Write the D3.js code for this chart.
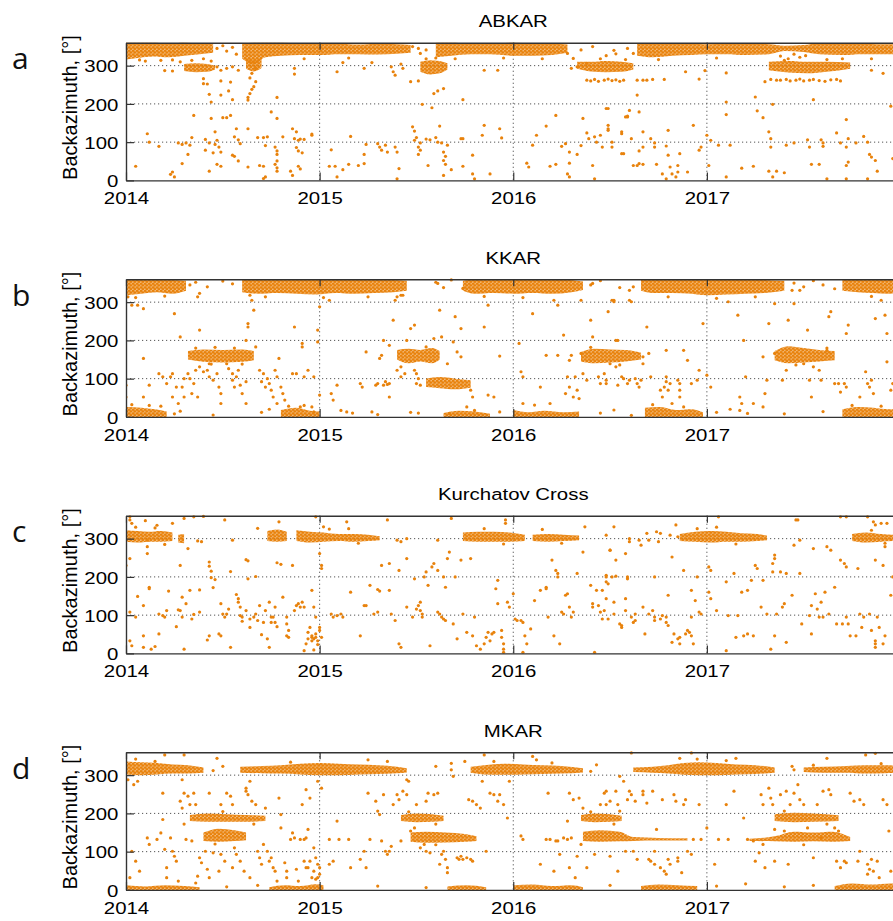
<!DOCTYPE html>
<html>
<head>
<meta charset="utf-8">
<script src="https://cdn.jsdelivr.net/npm/d3@7"></script>
<style>
  body { margin: 0; background: #fff; }
  svg { display: block; }
</style>
</head>
<body>
<div id="chart"></div>
<script>
const station_names = ["ABKAR", "KKAR", "Kurchatov Cross", "MKAR"];
const panel_letters = ["a", "b", "c", "d"];
const year_ticks = [2014, 2015, 2016, 2017];
const azimuth_ticks = [0, 100, 200, 300];

const abkar_bands = [
  [[2014.00,316,360],[2014.06,320,360],[2014.14,324,360],[2014.22,322,358],[2014.30,326,360],[2014.38,330,358],[2014.45,334,356]],
  [[2014.60,318,358],[2014.66,304,360],[2014.72,322,360],[2014.80,326,360],[2014.90,328,358],[2015.00,328,357],[2015.10,330,357],[2015.20,330,355],[2015.30,329,357],[2015.40,331,356],[2015.47,334,354]],
  [[2015.60,322,360],[2015.68,326,360],[2015.78,330,358],[2015.88,330,358],[2016.00,326,360],[2016.10,326,358],[2016.20,328,357],[2016.28,334,355]],
  [[2016.64,326,358],[2016.72,322,358],[2016.82,326,358],[2016.92,328,358],[2017.00,330,356],[2017.10,330,357],[2017.20,328,357],[2017.32,330,356],[2017.40,338,352],[2017.50,336,354],[2017.58,330,358],[2017.70,328,358],[2017.80,330,358],[2017.90,330,356],[2018.00,330,356]],
  [[2014.30,286,304],[2014.36,283,306],[2014.42,284,304],[2014.46,290,300]],
  [[2014.62,292,318],[2014.66,285,314],[2014.70,294,318]],
  [[2015.52,284,310],[2015.57,277,314],[2015.62,280,312],[2015.66,290,306]],
  [[2016.33,292,310],[2016.40,285,310],[2016.48,283,312],[2016.56,284,310],[2016.62,290,306]],
  [[2017.32,288,310],[2017.42,282,312],[2017.52,280,310],[2017.62,284,310],[2017.74,292,308]]
];
const abkar_points = [
  [2014.05,37],[2014.11,122],[2014.12,100],[2014.17,89],[2014.20,287],[2014.24,286],[2014.27,98],[2014.29,94],[2014.31,98],[2014.33,92],
  [2014.34,112],[2014.32,68],[2014.29,44],[2014.24,22],[2014.25,9],[2014.23,16],[2014.35,170],[2014.40,266],[2014.40,253],[2014.42,252],
  [2014.43,225],[2014.44,205],[2014.44,162],[2014.41,107],[2014.43,98],[2014.41,79],[2014.47,105],[2014.46,94],[2014.48,87],[2014.45,72],
  [2014.49,74],[2014.43,24],[2014.47,42],[2014.49,37],[2014.46,127],[2014.49,223],[2014.49,260],[2014.50,164],[2014.52,164],[2014.54,170],
  [2014.55,211],[2014.53,234],[2014.54,257],[2014.56,114],[2014.58,106],[2014.59,96],[2014.55,66],[2014.56,63],[2014.58,51],[2014.57,135],
  [2014.63,35],[2014.63,135],[2014.68,112],[2014.71,112],[2014.73,114],[2014.72,91],[2014.69,39],[2014.71,37],[2014.72,9],[2014.71,5],
  [2014.75,179],[2014.78,217],[2014.78,162],[2014.77,87],[2014.78,77],[2014.78,68],[2014.78,51],[2014.77,42],[2014.78,33],[2014.78,24],
  [2014.81,114],[2014.86,135],[2014.88,127],[2014.87,109],[2014.89,105],[2014.90,108],[2014.92,107],[2014.88,86],[2014.89,77],[2014.91,72],
  [2014.89,37],[2014.90,30],[2014.85,24],[2014.86,13],[2014.96,121],[2014.87,293],[2014.87,278],[2014.66,245],[2014.64,227],[2014.65,238],
  [2014.63,217],[2014.63,210],[2014.67,293],[2014.47,297],[2014.49,288],[2014.52,293],[2014.55,297],[2014.58,288],[2014.24,315],[2014.28,310],
  [2014.07,315],[2014.47,345],[2014.50,352],[2014.52,338],[2014.55,348],[2014.57,330],[2014.65,280],[2014.64,268],[2014.67,258],
  [2014.96,118],[2015.06,80],[2015.09,284],[2015.12,308],[2015.16,115],[2015.05,37],[2015.08,37],[2015.12,28],[2015.09,9],[2015.15,42],
  [2015.20,39],[2015.23,44],[2015.23,68],[2015.24,94],[2015.30,96],[2015.31,87],[2015.34,92],[2015.35,74],[2015.39,87],[2015.40,74],
  [2015.41,31],[2015.40,4],[2015.32,79],[2015.23,293],[2015.27,308],[2015.37,297],[2015.38,284],[2015.39,275],[2015.42,304],[2015.43,293],
  [2015.47,258],[2015.51,260],[2015.53,199],[2015.58,190],[2015.59,227],[2015.61,234],[2015.64,240],[2015.48,140],[2015.49,129],[2015.50,112],
  [2015.49,105],[2015.52,98],[2015.51,87],[2015.52,79],[2015.51,68],[2015.55,108],[2015.57,106],[2015.56,39],[2015.60,112],[2015.61,100],
  [2015.62,142],[2015.63,98],[2015.64,74],[2015.65,63],[2015.64,52],[2015.65,42],[2015.64,13],[2015.66,92],[2015.68,28],[2015.73,109],
  [2015.74,109],[2015.74,211],[2015.74,37],[2015.79,66],[2015.79,17],[2015.80,4],[2015.84,118],[2015.85,144],[2015.85,288],[2015.88,17],
  [2015.93,135],[2015.94,111],[2015.92,288],[2016.07,45],[2016.08,35],[2016.10,92],[2016.12,118],[2016.17,142],[2016.22,170],[2016.19,37],
  [2016.22,42],[2016.25,89],[2016.27,96],[2016.28,17],[2016.29,9],[2016.29,74],[2016.29,45],[2016.33,68],[2016.36,162],[2016.35,91],
  [2016.38,124],[2016.39,109],[2016.41,39],[2016.42,4],[2016.42,114],[2016.43,100],[2016.45,118],[2016.46,87],[2016.48,188],[2016.49,135],
  [2016.51,87],[2016.56,70],[2016.56,127],[2016.59,166],[2016.60,183],[2015.51,345],[2015.52,332],[2015.48,350],[2015.55,341],[2016.28,332],
  [2016.31,319],[2016.35,341],[2016.38,306],[2016.41,350],[2016.33,297],[2016.30,293],
  [2016.38,262],[2016.40,260],[2016.42,264],[2016.44,259],[2016.47,262],[2016.49,265],[2016.51,261],[2016.53,263],[2016.55,259],[2016.57,262],
  [2016.49,188],[2016.49,144],[2016.49,131],[2016.51,100],[2016.56,122],[2016.58,166],[2016.59,168],[2016.57,70],[2016.61,109],[2016.62,39],
  [2016.64,39],[2016.65,44],[2016.67,42],[2016.64,223],[2016.65,179],[2016.64,262],[2016.67,262],[2016.69,262],[2016.72,264],[2016.78,264],
  [2016.67,127],[2016.67,87],[2016.65,77],[2016.71,109],[2016.73,98],[2016.73,87],[2016.74,42],[2016.77,17],[2016.79,90],[2016.80,66],
  [2016.80,131],[2016.81,35],[2016.82,17],[2016.85,39],[2016.85,22],[2016.84,9],[2016.86,70],[2016.79,4],[2016.89,284],[2016.90,22],
  [2016.93,144],[2016.96,265],[2016.96,79],[2016.97,87],[2016.99,287],[2017.00,118],[2017.01,39],[2017.02,105],[2017.06,92],[2017.10,281],
  [2017.10,205],[2017.10,172],[2017.12,92],[2017.10,9],[2017.18,32],[2017.24,37],[2017.25,218],[2017.26,182],[2017.29,164],[2017.32,127],
  [2017.33,109],[2017.33,87],[2017.32,24],[2017.34,199],[2017.36,24],[2017.34,9],[2017.40,20],[2017.41,92],[2017.45,98],[2017.52,106],
  [2017.53,87],[2017.55,211],[2017.59,106],[2017.60,98],[2017.60,89],[2017.54,42],[2017.58,42],[2017.62,4],[2017.67,124],[2017.69,98],
  [2017.72,159],[2017.73,109],[2017.72,87],[2017.73,48],[2017.72,39],[2017.77,98],[2017.81,115],[2017.83,100],[2017.84,68],[2017.85,61],
  [2017.87,52],[2017.88,24],[2017.83,4],[2017.91,280],[2017.85,288],[2017.95,194],[2017.96,57],[2017.72,4],
  [2017.38,262],[2017.41,264],[2017.43,260],[2017.46,262],[2017.48,265],[2017.50,260],[2017.53,262],[2017.55,264],[2017.58,261],[2017.61,259],
  [2017.64,263],[2017.67,264],[2017.69,260],[2017.30,258],[2017.33,264],[2017.36,262],
  [2016.52,340],[2016.53,331],[2016.48,326],[2016.59,345],[2016.62,332],[2017.38,325],[2017.42,318],[2017.45,330],[2017.48,322],[2017.51,326],
  [2014.10,312],[2014.18,314],[2014.92,318],[2015.15,320],[2015.70,318],[2015.95,320],[2016.15,318],[2016.75,316],[2017.05,320],[2017.85,318],
  [2014.34,314],[2014.40,318],[2014.44,312],[2015.55,318],[2015.60,320],[2016.45,318],[2016.58,316],[2017.40,314],[2017.62,316],[2017.70,318]
];

const kkar_bands = [
  [[2014.00,318,358],[2014.08,322,358],[2014.16,326,358],[2014.24,322,358],[2014.31,330,356]],
  [[2014.60,326,358],[2014.68,322,360],[2014.78,324,360],[2014.88,322,360],[2014.98,320,360],[2015.08,324,358],[2015.18,322,358],[2015.28,324,358],[2015.38,326,358],[2015.45,330,356]],
  [[2015.74,330,356],[2015.80,322,360],[2015.90,324,360],[2016.00,322,360],[2016.10,324,358],[2016.20,322,360],[2016.30,326,358],[2016.36,332,354]],
  [[2016.66,330,358],[2016.72,324,360],[2016.82,324,360],[2016.92,322,360],[2017.00,318,358],[2017.10,320,360],[2017.20,322,360],[2017.30,324,358],[2017.40,330,356]],
  [[2017.70,330,358],[2017.78,326,360],[2017.86,324,358],[2017.93,322,360],[2018.00,324,358]],
  [[2014.32,150,172],[2014.40,144,176],[2014.50,142,175],[2014.60,144,176],[2014.66,148,172]],
  [[2015.40,150,175],[2015.46,140,178],[2015.52,145,175],[2015.58,140,180],[2015.62,150,172]],
  [[2016.35,145,170],[2016.42,140,178],[2016.50,142,176],[2016.58,145,175],[2016.66,150,168]],
  [[2017.35,148,172],[2017.42,140,185],[2017.50,142,180],[2017.58,145,175],[2017.66,148,172]],
  [[2015.55,78,100],[2015.62,75,104],[2015.70,72,100],[2015.78,76,96]],
  [[2014.00,0,26],[2014.08,0,24],[2014.15,0,20],[2014.21,0,14]],
  [[2014.80,0,18],[2014.88,0,24],[2014.95,0,16],[2015.00,0,14]],
  [[2015.64,0,10],[2015.72,0,16],[2015.80,0,14],[2015.88,0,8]],
  [[2016.00,0,18],[2016.08,0,12],[2016.16,0,16],[2016.26,0,12],[2016.34,0,14]],
  [[2016.68,0,24],[2016.76,0,26],[2016.84,0,18],[2016.92,0,20],[2016.98,0,12]],
  [[2017.70,0,20],[2017.78,0,26],[2017.86,0,24],[2017.94,0,20],[2018.00,0,20]]
];
const kkar_points = [
  [2014.01,314],[2014.03,292],[2014.06,292],[2014.09,283],[2014.09,153],[2014.12,83],[2014.09,52],[2014.00,83],[2014.00,52],[2014.17,113],
  [2014.19,105],[2014.21,87],[2014.23,105],[2014.24,113],[2014.25,270],[2014.28,209],[2014.26,78],[2014.24,52],[2014.27,35],[2014.29,78],
  [2014.30,52],[2014.30,100],[2014.32,113],[2014.33,100],[2014.35,87],[2014.34,61],[2014.37,52],[2014.37,314],[2014.38,323],[2014.38,227],
  [2014.36,122],[2014.38,131],[2014.40,118],[2014.42,122],[2014.43,105],[2014.43,139],[2014.45,96],[2014.47,113],[2014.48,78],[2014.49,61],
  [2014.49,35],[2014.52,139],[2014.53,126],[2014.55,113],[2014.55,96],[2014.57,105],[2014.56,78],[2014.58,122],[2014.59,83],[2014.60,61],
  [2014.62,35],[2014.62,92],[2014.63,244],[2014.63,235],[2014.62,200],[2014.64,318],[2014.65,305],[2014.66,279],[2014.67,183],[2014.69,122],
  [2014.71,113],[2014.70,92],[2014.72,78],[2014.73,100],[2014.74,87],[2014.75,70],[2014.77,122],[2014.78,105],[2014.76,52],[2014.78,35],
  [2014.79,153],[2014.80,78],[2014.81,61],[2014.82,44],[2014.86,113],[2014.88,113],[2014.87,235],[2014.90,26],[2014.91,183],[2014.97,105],
  [2014.99,227],[2014.99,196],[2015.00,288],[2014.91,192],[2014.92,105],[2014.94,122],[2014.96,26],[2014.97,13],[2015.00,57],[2015.05,305],
  [2015.06,61],[2015.07,44],[2015.09,83],[2015.11,17],[2015.14,13],[2015.17,10],[2015.21,87],[2015.22,78],[2015.24,170],[2015.27,13],
  [2015.29,83],[2015.30,87],[2015.33,83],[2015.34,92],[2015.35,85],[2015.36,87],[2015.36,52],[2015.33,200],[2015.36,187],[2015.31,153],
  [2015.32,161],[2015.38,253],[2015.39,305],[2015.40,314],[2015.42,318],[2015.43,318],[2015.40,122],[2015.42,131],[2015.42,105],[2015.44,113],
  [2015.45,200],[2015.47,231],[2015.49,240],[2015.49,122],[2015.50,113],[2015.51,100],[2015.50,87],[2015.52,83],[2015.51,10],[2015.55,183],
  [2015.59,205],[2015.61,349],[2015.62,279],[2015.63,209],[2015.66,139],[2015.67,9],[2015.68,358],[2015.69,196],[2015.70,262],[2015.71,170],
  [2015.73,157],[2015.73,231],[2015.74,336],[2015.78,70],[2015.79,52],[2015.76,26],[2015.80,17],[2015.85,235],[2015.87,292],[2015.87,57],
  [2015.90,52],[2015.93,159],[2015.93,13],[2016.03,192],[2016.04,118],[2016.05,105],[2016.05,35],[2016.10,270],[2016.11,31],[2016.14,78],
  [2016.17,161],[2016.19,35],[2016.21,305],[2016.23,161],[2016.23,292],[2016.26,214],[2016.27,61],[2016.28,105],[2016.29,148],[2016.29,78],
  [2016.30,161],[2016.31,52],[2016.32,105],[2016.33,70],[2016.34,48],[2016.35,305],[2016.35,166],[2016.36,113],[2016.38,96],[2016.40,253],
  [2016.41,209],[2016.41,349],[2016.44,105],[2016.45,87],[2016.47,113],[2016.48,96],[2016.51,305],[2016.52,301],[2016.54,83],[2016.56,105],
  [2016.60,96],[2016.60,305],[2016.48,87],[2016.49,275],[2016.52,305],[2016.53,200],[2016.54,200],[2016.50,139],[2016.53,131],[2016.57,100],
  [2016.59,87],[2016.60,331],[2016.61,301],[2016.61,4],[2016.62,340],[2016.63,100],[2016.64,87],[2016.65,78],[2016.66,96],[2016.67,139],
  [2016.67,157],[2016.69,235],[2016.70,166],[2016.71,105],[2016.76,70],[2016.77,52],[2016.78,78],[2016.79,92],[2016.79,105],[2016.80,70],
  [2016.81,87],[2016.82,35],[2016.79,174],[2016.85,96],[2016.86,87],[2016.86,70],[2016.86,52],[2016.88,174],[2016.90,148],[2016.92,87],
  [2016.95,96],[2016.96,122],[2016.98,244],[2017.00,109],[2017.02,78],[2017.11,301],[2017.16,266],[2017.17,17],[2017.18,35],[2017.17,52],
  [2017.19,200],[2017.20,105],[2017.21,9],[2017.24,35],[2017.29,26],[2017.29,157],[2017.30,61],[2017.31,96],[2017.32,244],[2017.35,296],
  [2017.35,166],[2017.39,96],[2017.41,122],[2017.42,253],[2017.44,331],[2017.45,296],[2017.48,331],[2017.50,139],[2017.52,227],[2017.53,96],
  [2017.54,52],[2017.55,131],[2017.58,122],[2017.59,96],[2017.62,174],[2017.63,262],[2017.64,275],[2017.66,87],[2017.68,87],[2017.69,65],
  [2017.71,87],[2017.72,78],[2017.72,218],[2017.73,240],[2017.79,52],[2017.82,118],[2017.83,87],[2017.84,78],[2017.85,96],[2017.87,257],
  [2017.86,61],[2017.90,305],[2017.92,266],[2017.93,218],[2017.93,144],[2017.95,70],[2017.96,87],
  [2014.05,312],[2014.20,316],[2014.72,314],[2015.02,312],[2015.25,314],[2015.85,315],[2016.05,312],[2016.80,314],[2017.05,310],[2017.25,314],
  [2017.85,315],[2014.33,345],[2014.36,352],[2014.42,340],[2014.50,355],[2014.55,348],[2015.60,352],[2015.64,338],[2016.40,345],[2016.45,356],
  [2016.55,338],[2017.45,350],[2017.50,340],[2017.55,356],[2017.60,345],[2017.66,335],[2014.25,8],[2014.28,15],[2014.45,5],[2014.70,12],
  [2014.74,20],[2015.30,6],[2015.47,12],[2016.45,10],[2016.52,18],[2017.05,12],[2017.12,20],[2017.40,8],[2017.60,14],
  [2014.03,32],[2014.12,30],[2014.18,28],[2014.84,28],[2014.92,30],[2016.72,32],[2016.88,26],[2017.75,30],[2017.90,28],[2014.36,180],
  [2014.46,182],[2014.56,180],[2014.44,138],[2014.60,138],[2016.40,182],[2016.55,136],[2017.46,136],[2017.62,180]
];

const kurchatov_bands = [
  [[2014.00,292,322],[2014.06,290,320],[2014.12,292,318],[2014.18,292,320],[2014.24,294,316]],
  [[2014.27,290,310],[2014.30,288,312]],
  [[2014.73,294,320],[2014.78,292,324],[2014.83,294,318]],
  [[2014.88,294,322],[2014.95,290,318],[2015.02,292,316],[2015.10,294,312],[2015.18,292,312],[2015.25,294,310],[2015.31,296,306]],
  [[2015.74,294,316],[2015.82,292,318],[2015.90,292,318],[2015.98,292,316],[2016.06,294,310]],
  [[2016.10,294,310],[2016.18,292,312],[2016.26,294,310],[2016.34,296,308]],
  [[2016.86,294,312],[2016.94,292,318],[2017.02,290,320],[2017.10,292,318],[2017.18,292,314],[2017.26,294,312],[2017.31,296,308]],
  [[2017.75,294,312],[2017.82,290,316],[2017.90,292,312],[2017.97,294,310]]
];
const kurchatov_points = [
  [2014.02,357],[2014.02,349],[2014.03,340],[2014.00,230],[2014.02,248],[2014.02,33],[2014.03,20],[2014.02,108],[2014.05,95],[2014.06,149],
  [2014.09,125],[2014.10,347],[2014.11,296],[2014.11,279],[2014.12,173],[2014.12,169],[2014.09,46],[2014.09,16],[2014.11,261],[2014.13,11],
  [2014.15,18],[2014.16,335],[2014.17,103],[2014.17,51],[2014.19,99],[2014.20,95],[2014.21,112],[2014.22,163],[2014.24,340],[2014.26,70],
  [2014.27,114],[2014.28,112],[2014.28,230],[2014.29,147],[2014.30,353],[2014.29,95],[2014.30,11],[2014.31,130],[2014.32,274],[2014.33,165],
  [2014.34,90],[2014.35,357],[2014.35,102],[2014.37,294],[2014.38,166],[2014.38,108],[2014.39,292],[2014.40,358],[2014.42,35],[2014.43,46],
  [2014.43,239],[2014.43,228],[2014.44,215],[2014.44,198],[2014.45,172],[2014.46,193],[2014.48,51],[2014.49,46],[2014.49,130],[2014.50,103],
  [2014.51,95],[2014.51,349],[2014.52,103],[2014.53,116],[2014.54,16],[2014.54,214],[2014.55,296],[2014.57,154],[2014.58,143],[2014.58,134],
  [2014.59,121],[2014.59,99],[2014.60,95],[2014.60,84],[2014.62,112],[2014.62,245],[2014.63,242],[2014.63,195],[2014.64,90],[2014.64,68],
  [2014.66,95],[2014.67,103],[2014.68,327],[2014.67,201],[2014.68,86],[2014.69,125],[2014.70,49],[2014.71,81],[2014.72,112],[2014.73,38],
  [2014.74,16],[2014.74,134],[2014.75,95],[2014.75,81],[2014.76,95],[2014.77,121],[2014.77,81],[2014.78,70],[2014.78,237],[2014.79,344],
  [2014.80,233],[2014.81,147],[2014.83,95],[2014.83,77],[2014.84,60],[2014.83,46],[2014.84,42],[2014.86,230],[2014.87,112],[2014.88,125],
  [2014.89,130],[2014.90,121],[2014.91,134],[2014.92,7],[2014.92,121],[2014.93,25],[2014.94,38],[2014.95,68],[2014.96,42],[2014.96,33],
  [2014.97,121],[2014.98,95],[2014.99,23],[2014.98,42],[2014.97,9],[2014.96,165],[2015.00,60],[2015.01,42],[2015.01,230],[2015.02,331],
  [2014.98,357],[2014.94,55],[2014.96,46],[2014.97,38],[2014.98,51],[2014.99,33],[2015.00,68],[2015.01,222],[2015.00,261],[2015.06,103],
  [2015.07,95],[2015.09,99],[2015.11,103],[2015.12,95],[2015.14,344],[2015.16,160],[2015.21,46],[2015.23,125],[2015.24,125],[2015.26,178],
  [2015.28,103],[2015.30,108],[2015.30,167],[2015.31,163],[2015.32,230],[2015.35,349],[2015.36,165],[2015.36,235],[2015.37,103],[2015.39,86],
  [2015.40,296],[2015.41,25],[2015.42,16],[2015.41,217],[2015.42,292],[2015.45,300],[2015.45,248],[2015.45,121],[2015.48,95],[2015.49,195],
  [2015.50,116],[2015.51,125],[2015.52,112],[2015.53,103],[2015.52,134],[2015.53,95],[2015.54,200],[2015.55,213],[2015.56,178],[2015.57,20],
  [2015.58,226],[2015.59,235],[2015.61,217],[2015.61,296],[2015.61,108],[2015.62,103],[2015.63,95],[2015.64,90],[2015.65,86],[2015.64,200],
  [2015.65,173],[2015.66,248],[2015.67,265],[2015.68,353],[2015.69,77],[2015.70,200],[2015.71,38],[2015.73,244],[2015.74,103],[2015.76,55],
  [2015.78,248],[2015.79,46],[2015.80,95],[2015.81,20],[2015.83,11],[2015.85,25],[2015.86,42],[2015.87,55],[2015.88,33],[2015.89,51],
  [2015.90,55],[2015.91,169],[2015.92,191],[2015.92,130],[2015.94,60],[2015.94,42],[2015.95,25],[2015.95,11],[2015.95,3],[2015.96,340],
  [2015.96,349],[2015.97,134],[2015.98,121],[2016.00,156],[2016.01,90],[2016.02,86],[2016.04,86],[2016.05,81],[2016.05,3],[2016.06,46],
  [2016.07,25],[2016.09,64],[2016.11,138],[2016.14,165],[2016.17,173],[2016.17,169],[2016.18,95],[2016.20,244],[2016.21,46],[2016.22,217],
  [2016.23,209],[2016.23,200],[2016.24,25],[2016.25,108],[2016.26,103],[2016.27,152],[2016.28,156],[2016.29,121],[2016.30,95],[2016.31,108],
  [2016.33,209],[2016.36,265],[2016.37,331],[2016.40,178],[2016.41,121],[2016.41,130],[2016.42,3],[2016.43,165],[2016.44,125],[2016.45,108],
  [2016.46,90],[2016.47,112],[2016.48,204],[2016.48,187],[2016.50,270],[2016.52,331],[2016.53,244],[2016.56,73],[2016.58,112],[2016.59,195],
  [2016.46,165],[2016.48,309],[2016.49,182],[2016.48,143],[2016.48,200],[2016.51,200],[2016.53,202],[2016.52,134],[2016.50,270],[2016.49,90],
  [2016.52,103],[2016.55,77],[2016.56,68],[2016.58,261],[2016.59,200],[2016.58,143],[2016.60,300],[2016.60,292],[2016.61,95],[2016.62,81],
  [2016.63,86],[2016.63,103],[2016.65,296],[2016.66,283],[2016.67,121],[2016.68,51],[2016.69,314],[2016.70,296],[2016.70,103],[2016.72,112],
  [2016.73,95],[2016.73,86],[2016.73,200],[2016.74,318],[2016.76,314],[2016.75,292],[2016.76,90],[2016.77,99],[2016.79,95],[2016.79,81],
  [2016.80,73],[2016.80,152],[2016.81,309],[2016.82,252],[2016.82,29],[2016.83,51],[2016.84,336],[2016.85,305],[2016.85,38],[2016.86,42],
  [2016.86,25],[2016.88,217],[2016.89,51],[2016.90,60],[2016.91,55],[2016.92,46],[2016.92,165],[2016.92,95],[2016.93,25],[2016.94,138],
  [2016.95,200],[2016.96,108],[2016.97,103],[2017.01,226],[2017.02,217],[2017.01,160],[2017.02,143],[2017.05,112],[2017.06,357],[2017.10,7],
  [2017.10,187],[2017.11,99],[2017.14,209],[2017.15,42],[2017.16,99],[2017.18,160],[2017.19,46],[2017.21,165],[2017.21,51],[2017.23,191],
  [2017.24,46],[2017.25,230],[2017.26,222],[2017.28,121],[2017.29,191],[2017.31,103],[2017.33,11],[2017.34,213],[2017.34,235],[2017.35,248],
  [2017.35,257],[2017.35,46],[2017.36,103],[2017.38,213],[2017.39,121],[2017.40,130],[2017.41,29],[2017.41,209],[2017.44,152],[2017.45,283],
  [2017.46,349],[2017.47,349],[2017.48,209],[2017.48,296],[2017.49,77],[2017.53,99],[2017.54,125],[2017.54,51],[2017.55,274],[2017.56,156],
  [2017.57,116],[2017.58,95],[2017.59,134],[2017.60,95],[2017.61,160],[2017.62,279],[2017.63,103],[2017.64,270],[2017.66,173],[2017.67,77],
  [2017.69,357],[2017.72,357],[2017.69,244],[2017.70,77],[2017.71,235],[2017.72,95],[2017.72,226],[2017.73,77],[2017.74,46],[2017.77,46],
  [2017.78,222],[2017.79,103],[2017.80,68],[2017.81,95],[2017.83,357],[2017.84,103],[2017.85,60],[2017.86,344],[2017.87,336],[2017.87,33],
  [2017.87,25],[2017.87,16],[2017.87,244],[2017.88,95],[2017.89,68],[2017.90,340],[2017.91,25],[2017.91,230],[2017.92,279],[2017.92,46],
  [2017.93,340],[2017.95,152],[2017.96,200],
  [2014.05,330],[2014.15,328],[2014.20,285],[2015.05,325],[2015.15,326],[2015.20,288],[2015.85,326],[2015.95,286],[2016.15,324],[2016.25,288],
  [2016.95,326],[2017.05,330],[2017.15,286],[2017.85,322],[2017.92,288]
];

const mkar_bands = [
  [[2014.00,302,336],[2014.08,300,334],[2014.16,302,332],[2014.24,304,328],[2014.32,304,326],[2014.40,306,320]],
  [[2014.59,306,322],[2014.70,305,324],[2014.80,304,326],[2014.90,302,330],[2015.00,300,332],[2015.10,300,330],[2015.20,302,328],[2015.30,303,326],[2015.40,305,322],[2015.45,307,318]],
  [[2015.78,306,322],[2015.85,302,326],[2015.95,301,330],[2016.05,302,328],[2016.15,303,326],[2016.25,304,324],[2016.36,307,318]],
  [[2016.62,308,320],[2016.72,306,322],[2016.80,304,326],[2016.88,301,332],[2016.96,300,334],[2017.05,300,332],[2017.15,302,328],[2017.25,303,326],[2017.35,306,320]],
  [[2017.50,308,320],[2017.60,306,322],[2017.72,306,324],[2017.82,304,326],[2017.92,305,326],[2018.00,306,324]],
  [[2014.33,180,196],[2014.42,178,200],[2014.52,178,198],[2014.62,178,196],[2014.72,180,194]],
  [[2015.42,180,196],[2015.50,177,200],[2015.58,178,198],[2015.64,180,194]],
  [[2016.35,180,196],[2016.42,177,200],[2016.50,178,198],[2016.56,180,194]],
  [[2017.35,180,198],[2017.45,177,202],[2017.55,178,200],[2017.68,180,195]],
  [[2014.40,128,150],[2014.48,126,160],[2014.56,128,156],[2014.62,130,150]],
  [[2015.47,126,150],[2015.55,123,152],[2015.65,124,150],[2015.75,126,146],[2015.81,128,140]],
  [[2016.36,128,152],[2016.45,126,156],[2016.55,127,152],[2016.62,128,138],[2016.75,129,136],[2016.90,129,135]],
  [[2017.22,128,134],[2017.35,127,140],[2017.45,126,152],[2017.55,127,150],[2017.65,126,152],[2017.74,128,138]],
  [[2014.00,0,12],[2014.10,0,9],[2014.20,0,12],[2014.30,0,10],[2014.38,0,7]],
  [[2014.74,0,7],[2014.82,0,12],[2014.90,0,10],[2014.98,0,15],[2015.02,0,12]],
  [[2015.66,0,9],[2015.76,0,12],[2015.86,0,7]],
  [[2016.00,0,12],[2016.10,0,14],[2016.20,0,10],[2016.30,0,12],[2016.36,0,7]],
  [[2016.66,0,10],[2016.75,0,14],[2016.85,0,12],[2016.95,0,10]],
  [[2017.66,0,10],[2017.75,0,17],[2017.85,0,14],[2017.95,0,17],[2018.00,0,15]]
];
const mkar_points = [
  [2014.01,288],[2014.04,275],[2014.06,284],[2014.03,101],[2014.02,32],[2014.05,75],[2014.07,49],[2014.11,136],[2014.12,119],[2014.16,132],
  [2014.18,149],[2014.20,353],[2014.19,253],[2014.19,184],[2014.20,106],[2014.21,58],[2014.21,32],[2014.23,136],[2014.24,101],[2014.25,88],
  [2014.26,75],[2014.27,23],[2014.28,232],[2014.29,214],[2014.29,288],[2014.30,353],[2014.30,253],[2014.31,132],[2014.32,245],[2014.33,223],
  [2014.34,128],[2014.35,253],[2014.36,223],[2014.37,36],[2014.38,84],[2014.39,71],[2014.41,101],[2014.42,54],[2014.43,32],[2014.43,253],
  [2014.45,97],[2014.47,344],[2014.48,49],[2014.49,93],[2014.49,223],[2014.50,323],[2014.51,75],[2014.52,253],[2014.54,245],[2014.55,58],
  [2014.55,223],[2014.56,110],[2014.57,93],[2014.59,75],[2014.61,49],[2014.62,258],[2014.62,266],[2014.63,249],[2014.64,284],[2014.64,32],
  [2014.65,232],[2014.67,223],[2014.68,101],[2014.69,84],[2014.70,67],[2014.71,119],[2014.72,214],[2014.73,101],[2014.74,75],[2014.75,84],
  [2014.76,58],[2014.77,49],[2014.78,23],[2014.79,240],[2014.80,197],[2014.80,162],[2014.82,71],[2014.83,49],[2014.83,32],[2014.85,132],
  [2014.86,149],[2014.87,136],[2014.88,54],[2014.89,23],[2014.90,132],[2014.91,223],[2014.92,132],[2014.93,262],[2014.93,136],[2014.94,58],
  [2014.95,75],[2014.96,32],[2014.97,49],[2014.98,28],[2014.99,284],[2014.99,67],[2015.00,41],[2015.01,266],
  [2014.92,75],[2014.93,58],[2014.94,158],[2014.95,240],[2014.97,110],[2014.98,84],[2014.99,32],[2015.00,58],[2015.05,132],[2015.05,67],
  [2015.07,75],[2015.09,180],[2015.10,132],[2015.15,132],[2015.16,58],[2015.21,80],[2015.23,101],[2015.24,58],[2015.25,253],[2015.26,132],
  [2015.29,232],[2015.30,206],[2015.31,197],[2015.32,128],[2015.33,249],[2015.34,101],[2015.35,93],[2015.36,101],[2015.37,114],[2015.38,223],
  [2015.40,249],[2015.41,236],[2015.42,128],[2015.43,258],[2015.45,288],[2015.45,249],[2015.46,284],[2015.47,154],[2015.49,162],[2015.50,223],
  [2015.52,110],[2015.54,119],[2015.55,232],[2015.55,101],[2015.56,253],[2015.57,97],[2015.59,249],[2015.60,323],[2015.61,253],[2015.62,67],
  [2015.63,93],[2015.64,101],[2015.65,80],[2015.66,58],[2015.66,45],[2015.68,331],[2015.68,314],[2015.69,297],[2015.71,84],[2015.72,80],
  [2015.73,88],[2015.74,80],[2015.75,336],[2015.76,84],[2015.78,80],[2015.79,75],[2015.77,236],[2015.79,232],[2015.81,223],[2015.83,214],
  [2015.84,284],[2015.85,353],[2015.86,101],[2015.88,253],[2015.90,249],[2015.92,232],[2015.93,249],[2015.95,223],[2015.97,188],[2015.98,284],
  [2016.04,141],[2016.05,132],[2016.10,349],[2016.12,340],[2016.14,67],[2016.17,132],[2016.18,253],[2016.19,132],[2016.21,49],[2016.22,128],
  [2016.23,128],[2016.24,93],[2016.26,136],[2016.28,132],[2016.28,180],[2016.29,58],[2016.29,253],[2016.30,136],[2016.31,236],[2016.32,32],
  [2016.33,88],[2016.34,240],[2016.35,119],[2016.36,214],[2016.38,58],[2016.40,310],[2016.42,93],[2016.43,327],[2016.45,223],[2016.48,258],
  [2016.50,88],[2016.54,49],[2016.55,297],[2016.58,101],
  [2016.47,253],[2016.48,223],[2016.50,232],[2016.53,258],[2016.54,223],[2016.55,206],[2016.57,284],[2016.59,236],[2016.60,258],[2016.61,358],
  [2016.61,249],[2016.62,101],[2016.63,232],[2016.64,80],[2016.67,249],[2016.67,258],[2016.69,227],[2016.70,80],[2016.71,75],[2016.72,258],
  [2016.73,67],[2016.73,101],[2016.74,158],[2016.76,58],[2016.77,236],[2016.78,49],[2016.79,41],[2016.80,80],[2016.81,67],[2016.83,249],
  [2016.84,232],[2016.85,75],[2016.85,84],[2016.86,344],[2016.87,45],[2016.88,223],[2016.89,236],[2016.90,101],[2016.92,358],[2016.92,93],
  [2016.93,132],[2016.96,223],[2016.97,132],[2017.00,162],[2017.04,67],[2017.06,132],[2017.10,223],[2017.11,132],[2017.14,258],[2017.15,344],
  [2017.19,188],[2017.21,132],[2017.24,128],[2017.25,75],[2017.27,97],[2017.28,249],[2017.29,223],[2017.29,119],[2017.30,58],[2017.32,266],
  [2017.33,240],[2017.34,223],[2017.35,75],[2017.35,158],[2017.38,249],[2017.40,154],[2017.41,258],[2017.42,67],[2017.43,223],[2017.44,323],
  [2017.45,253],[2017.47,275],[2017.48,236],[2017.50,223],[2017.52,162],[2017.55,84],[2017.57,223],[2017.59,136],[2017.60,258],[2017.62,344],
  [2017.63,262],[2017.64,249],[2017.66,162],[2017.67,75],[2017.68,154],[2017.69,58],[2017.71,75],[2017.72,71],[2017.74,253],[2017.76,232],
  [2017.78,75],[2017.79,236],[2017.79,101],[2017.81,223],[2017.82,353],[2017.83,67],[2017.83,41],[2017.84,54],[2017.85,80],[2017.86,49],
  [2017.87,357],[2017.88,75],[2017.89,32],[2017.91,236],[2017.93,223],[2017.94,154],[2017.95,49],
  [2014.05,342],[2014.15,336],[2014.45,312],[2014.85,334],[2015.25,340],[2015.35,336],[2015.90,336],[2016.20,332],[2016.95,342],[2017.10,338],
  [2017.45,314],[2017.55,326],[2017.90,330],[2014.36,18],[2014.52,8],[2014.68,12],[2015.30,10],[2015.55,6],[2016.50,12],[2017.05,10],
  [2017.20,16],[2017.40,8],[2017.55,12],[2014.30,172],[2014.50,205],[2014.66,172],[2015.46,204],[2015.60,172],[2016.40,204],[2016.52,172],
  [2017.40,206],[2017.62,172],[2014.46,120],[2015.60,118],[2017.50,118]
];

let graph_config = {
  width: 893,
  height: 921,
  left: 126,
  right: 900.5,
  first_top: 42.7,
  panel_height: 137.7,
  panel_step: 236.5
};
const dot_color = "#e8820c";
const text_font = "'Liberation Sans', Arial, sans-serif";

let svg = d3
  .select("#chart")
  .append("svg")
  .attr("width", graph_config.width)
  .attr("height", graph_config.height)
  .style("background", "#fff");

// texture for the dense clusters, so they read as packed dots rather than flat shapes
let dense = svg
  .append("defs")
  .append("pattern")
  .attr("id", "dense_dots")
  .attr("patternUnits", "userSpaceOnUse")
  .attr("width", 4)
  .attr("height", 3.6);
dense.append("rect").attr("width", 4).attr("height", 3.6).attr("fill", dot_color).attr("fill-opacity", 0.55);
dense.append("circle").attr("cx", 1).attr("cy", 0.9).attr("r", 1.5).attr("fill", dot_color);
dense.append("circle").attr("cx", 3).attr("cy", 2.7).attr("r", 1.5).attr("fill", dot_color);

let x_scale = d3
  .scaleLinear()
  .domain([2014, 2018])
  .range([graph_config.left, graph_config.right]);

let panels = [
  { bands: abkar_bands, points: abkar_points },
  { bands: kkar_bands, points: kkar_points },
  { bands: kurchatov_bands, points: kurchatov_points },
  { bands: mkar_bands, points: mkar_points }
];

panels.forEach((panel, i) => draw_panel(panel, i));

function draw_panel(panel, i) {
  let { left, panel_height, width } = graph_config;
  let top = graph_config.first_top + i * graph_config.panel_step;
  let g = svg.append("g").attr("transform", "translate(0," + top + ")");

  let y_scale = d3.scaleLinear().domain([0, 360]).range([panel_height, 0]);

  g.append("clipPath")
    .attr("id", "clip_" + i)
    .append("rect")
    .attr("x", left)
    .attr("y", -2)
    .attr("width", width - left)
    .attr("height", panel_height + 4);

  // dotted grid
  let grid = g.append("g").attr("stroke", "#555").attr("stroke-width", 1).attr("stroke-dasharray", "1.2,2.8");
  grid.selectAll(".hgrid")
    .data(azimuth_ticks.filter(d => d > 0))
    .enter()
    .append("line")
    .attr("x1", left)
    .attr("x2", width)
    .attr("y1", d => y_scale(d))
    .attr("y2", d => y_scale(d));
  grid.selectAll(".vgrid")
    .data(year_ticks.filter(d => d > 2014))
    .enter()
    .append("line")
    .attr("x1", d => x_scale(d))
    .attr("x2", d => x_scale(d))
    .attr("y1", 0)
    .attr("y2", panel_height);

  let data_g = g.append("g").attr("clip-path", "url(#clip_" + i + ")");

  let band_area = d3
    .area()
    .x(d => x_scale(d[0]))
    .y0(d => y_scale(d[1]))
    .y1(d => y_scale(d[2]))
    .curve(d3.curveMonotoneX);

  data_g.selectAll(".band")
    .data(panel.bands)
    .enter()
    .append("path")
    .attr("d", band_area)
    .attr("fill", "url(#dense_dots)");

  data_g.selectAll(".dot")
    .data(panel.points)
    .enter()
    .append("circle")
    .attr("cx", d => x_scale(d[0]))
    .attr("cy", d => y_scale(d[1]))
    .attr("r", 1.6)
    .attr("fill", dot_color);

  // axes, ticks pointing inwards like the original
  let x_axis = g.append("g")
    .attr("transform", "translate(0," + panel_height + ")")
    .call(d3.axisBottom(x_scale).tickValues(year_ticks).tickSizeInner(-8).tickSizeOuter(0).tickPadding(12).tickFormat(d3.format("d")));
  let top_axis = g.append("g")
    .call(d3.axisTop(x_scale).tickValues(year_ticks).tickSizeInner(-7).tickSizeOuter(0).tickFormat(""));
  let y_axis = g.append("g")
    .attr("transform", "translate(" + left + ",0)")
    .call(d3.axisLeft(y_scale).tickValues(azimuth_ticks).tickSizeInner(-8).tickSizeOuter(0).tickPadding(6.4));

  [x_axis, top_axis, y_axis].forEach(a => {
    a.attr("font-family", text_font).attr("font-size", 17);
    a.select(".domain").attr("stroke", "#333").attr("stroke-width", 1.4);
    a.selectAll(".tick line").attr("stroke", "#333").attr("stroke-width", 1.2);
    a.selectAll(".tick text").attr("fill", "#000").attr("transform", "scale(1.2,1)");
  });
  y_axis.selectAll(".tick text").attr("dy", "0.36em");

  // station name
  g.append("text")
    .attr("transform", "translate(" + x_scale(2016) + ",-15.4) scale(1.2,1)")
    .attr("text-anchor", "middle")
    .attr("font-family", text_font)
    .attr("font-size", 17)
    .attr("fill", "#000")
    .text(station_names[i]);

  // axis title
  g.append("text")
    .attr("transform", "translate(77," + (panel_height / 2 - 4) + ") rotate(-90)")
    .attr("text-anchor", "middle")
    .attr("font-family", text_font)
    .attr("font-size", 20)
    .attr("fill", "#000")
    .text("Backazimuth, [°]");

  // panel letter
  g.append("text")
    .attr("x", 12)
    .attr("y", 26.5)
    .attr("font-family", "'Open Sans', 'Noto Sans', sans-serif")
    .attr("font-size", 30)
    .attr("fill", "#111")
    .text(panel_letters[i]);
}
</script>
</body>
</html>
